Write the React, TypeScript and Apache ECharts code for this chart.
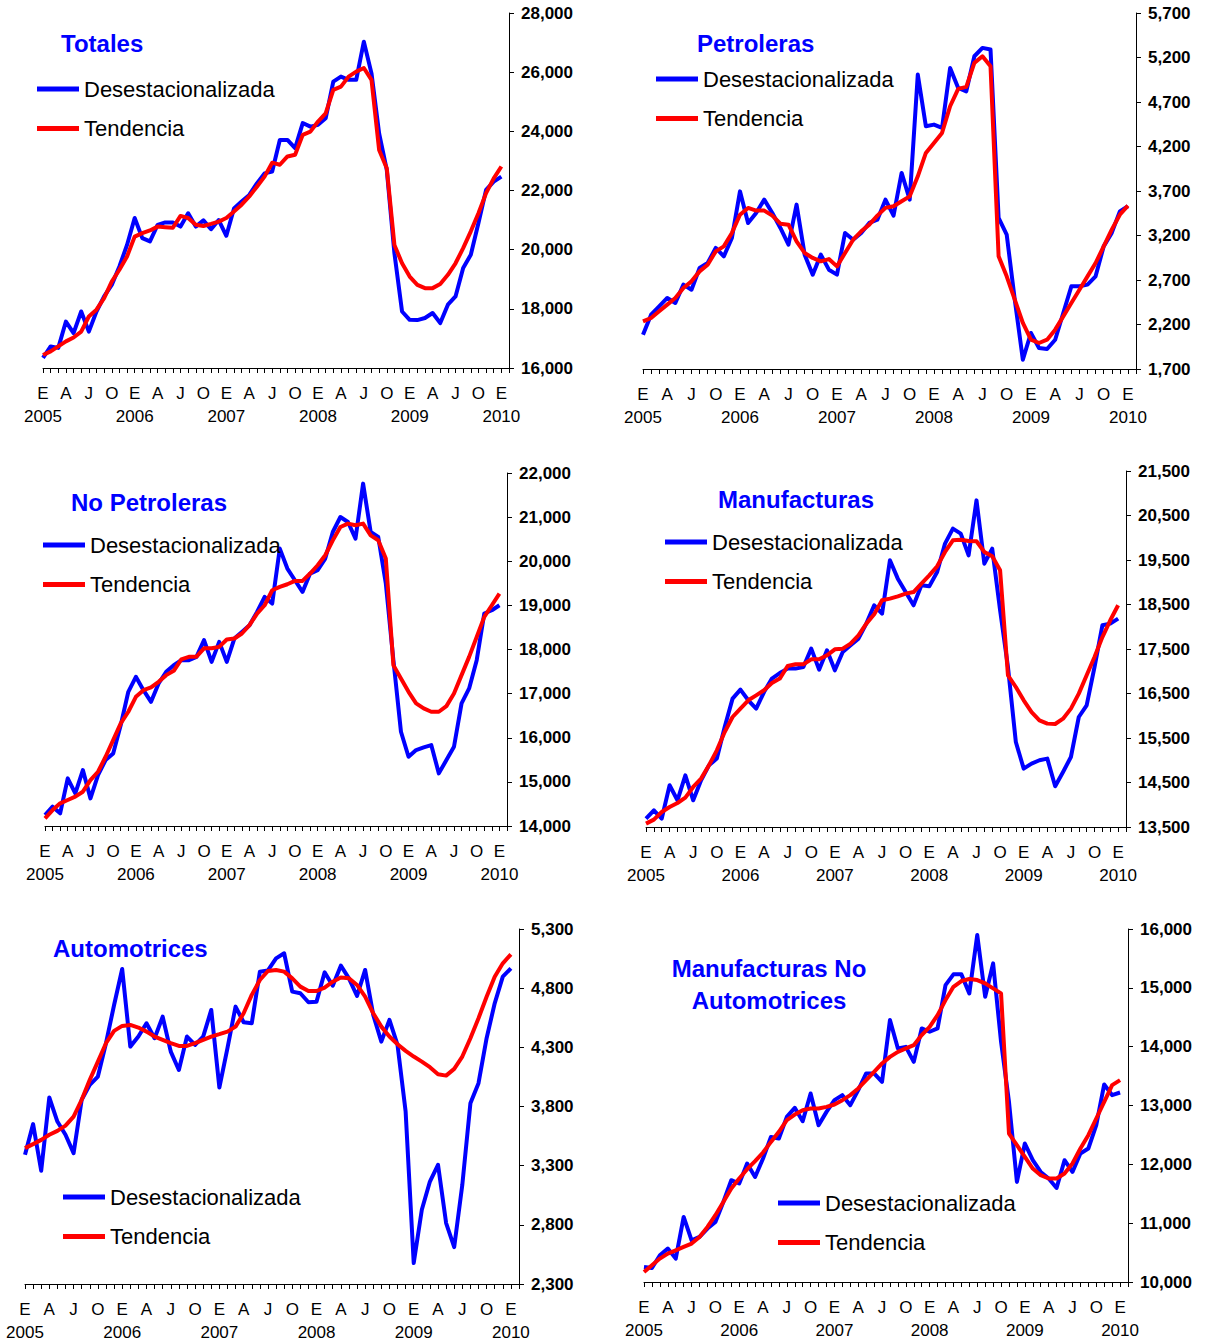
import React, { useEffect, useRef } from "react";
import * as echarts from "echarts";

const monthLetters = ["E", "F", "M", "A", "M", "J", "J", "A", "S", "O", "N", "D"];
const years = [2005, 2006, 2007, 2008, 2009, 2010];
const categories: string[] = [];
for (let y = 0; y < years.length; y++) {
  for (let m = 0; m < 12; m++) {
    if (y === years.length - 1 && m > 0) break;
    categories.push(`${years[y]}-${m + 1}`);
  }
}
categories.push("");

const seriesNames = ["Desestacionalizada", "Tendencia"];

const totDes = [16340, 16730, 16680, 17570, 17180, 17910, 17230, 17910, 18420, 18810, 19430, 20160, 21070, 20390, 20280, 20840, 20920, 20920, 20780, 21230, 20780, 20990, 20690, 21000, 20470, 21390, 21630, 21850, 22240, 22580, 22640, 23710, 23710, 23430, 24280, 24160, 24220, 24440, 25680, 25850, 25740, 25740, 27030, 25960, 23930, 22700, 19880, 17910, 17630, 17620, 17690, 17860, 17520, 18140, 18420, 19380, 19830, 20900, 22020, 22300, 22470];
const totTen = [16440, 16560, 16730, 16900, 17030, 17230, 17740, 17970, 18360, 18920, 19320, 19770, 20440, 20560, 20650, 20780, 20760, 20740, 21140, 21070, 20840, 20800, 20870, 20950, 21070, 21290, 21520, 21800, 22130, 22470, 22940, 22870, 23150, 23210, 23880, 23990, 24330, 24610, 25400, 25510, 25850, 26020, 26140, 25740, 23370, 22750, 20160, 19540, 19090, 18810, 18700, 18700, 18840, 19150, 19540, 20050, 20620, 21230, 21910, 22410, 22810];

const petDes = [2085, 2310, 2404, 2498, 2442, 2648, 2591, 2835, 2891, 3060, 2966, 3172, 3696, 3341, 3453, 3603, 3453, 3285, 3097, 3547, 2985, 2760, 2985, 2816, 2760, 3229, 3153, 3229, 3341, 3378, 3603, 3423, 3903, 3603, 5008, 4427, 4446, 4409, 5083, 4858, 4820, 5214, 5308, 5289, 3397, 3210, 2479, 1805, 2105, 1936, 1925, 2029, 2329, 2629, 2629, 2648, 2741, 3078, 3229, 3471, 3528];
const petTen = [2235, 2273, 2348, 2423, 2498, 2610, 2685, 2797, 2872, 3022, 3078, 3229, 3434, 3510, 3480, 3480, 3423, 3333, 3322, 3135, 3004, 2948, 2910, 2935, 2853, 3004, 3153, 3247, 3322, 3423, 3510, 3528, 3584, 3640, 3865, 4128, 4240, 4353, 4652, 4847, 4870, 5140, 5214, 5101, 2966, 2741, 2479, 2217, 2029, 1992, 2029, 2142, 2291, 2442, 2591, 2741, 2891, 3078, 3266, 3434, 3535];

const npDes = [14249, 14437, 14287, 15079, 14740, 15268, 14626, 15155, 15494, 15645, 16287, 17041, 17380, 17079, 16815, 17230, 17494, 17645, 17758, 17758, 17833, 18211, 17720, 18173, 17720, 18249, 18399, 18551, 18852, 19192, 19041, 20287, 19834, 19570, 19305, 19721, 19796, 20061, 20663, 21003, 20890, 20514, 21759, 20663, 20550, 19495, 17758, 16135, 15569, 15721, 15781, 15834, 15193, 15494, 15796, 16778, 17118, 17758, 18815, 18890, 19003];
const npTen = [14174, 14362, 14514, 14589, 14664, 14777, 15041, 15229, 15569, 15947, 16325, 16589, 16927, 17079, 17140, 17268, 17419, 17517, 17774, 17833, 17838, 18027, 18027, 18060, 18227, 18249, 18362, 18551, 18815, 19003, 19343, 19419, 19479, 19555, 19555, 19721, 19909, 20136, 20476, 20777, 20853, 20815, 20853, 20588, 20476, 20061, 17645, 17344, 17041, 16778, 16664, 16589, 16589, 16717, 17004, 17419, 17833, 18286, 18739, 19003, 19268];

const manDes = [13689, 13875, 13689, 14437, 14100, 14662, 14100, 14549, 14886, 15037, 15747, 16385, 16587, 16347, 16160, 16533, 16835, 16960, 17059, 17059, 17095, 17508, 17036, 17470, 17021, 17432, 17583, 17733, 18070, 18482, 18295, 19493, 19081, 18780, 18482, 18931, 18908, 19230, 19868, 20205, 20093, 19605, 20840, 19418, 19755, 18370, 17095, 15410, 14812, 14925, 15000, 15037, 14415, 14736, 15073, 15972, 16235, 17095, 18032, 18070, 18183];
const manTen = [13576, 13666, 13837, 13949, 14039, 14161, 14399, 14587, 14886, 15223, 15635, 15972, 16160, 16347, 16459, 16572, 16736, 16835, 17118, 17156, 17156, 17268, 17268, 17358, 17493, 17508, 17620, 17808, 18070, 18280, 18594, 18632, 18684, 18744, 18780, 18969, 19156, 19358, 19680, 19942, 19957, 19927, 19920, 19680, 19583, 19268, 16909, 16646, 16347, 16084, 15897, 15823, 15815, 15935, 16160, 16497, 16909, 17320, 17769, 18145, 18482];

const autoDes = [3392, 3651, 3257, 3876, 3673, 3561, 3406, 3857, 3983, 4053, 4335, 4658, 4962, 4306, 4391, 4503, 4377, 4559, 4264, 4109, 4391, 4320, 4391, 4616, 3960, 4293, 4644, 4512, 4503, 4939, 4950, 5052, 5095, 4771, 4757, 4681, 4686, 4934, 4821, 4990, 4883, 4734, 4954, 4574, 4348, 4532, 4320, 3757, 2477, 2927, 3166, 3307, 2815, 2612, 3138, 3828, 3997, 4377, 4672, 4897, 4968];
const autoTen = [3448, 3482, 3518, 3561, 3594, 3639, 3715, 3857, 4025, 4179, 4335, 4439, 4481, 4489, 4467, 4433, 4391, 4363, 4335, 4312, 4312, 4335, 4363, 4391, 4411, 4433, 4475, 4588, 4743, 4869, 4945, 4954, 4940, 4883, 4813, 4776, 4776, 4805, 4855, 4890, 4883, 4827, 4728, 4588, 4475, 4391, 4326, 4270, 4222, 4179, 4132, 4073, 4061, 4118, 4222, 4377, 4546, 4728, 4897, 5010, 5086];

const mnaDes = [10255, 10238, 10454, 10568, 10398, 11106, 10709, 10766, 10908, 11021, 11361, 11730, 11674, 12014, 11786, 12099, 12466, 12439, 12807, 12960, 12733, 13205, 12665, 12892, 13091, 13176, 13006, 13261, 13545, 13545, 13402, 14452, 13970, 13997, 13742, 14310, 14253, 14310, 15047, 15229, 15229, 14906, 15897, 14848, 15416, 14082, 13062, 11701, 12354, 12070, 11871, 11759, 11599, 12070, 11871, 12184, 12269, 12665, 13358, 13176, 13221];
const mnaTen = [10170, 10284, 10398, 10483, 10539, 10596, 10653, 10766, 10936, 11135, 11361, 11589, 11759, 11917, 12053, 12201, 12381, 12552, 12750, 12847, 12921, 12949, 12949, 12977, 13017, 13091, 13176, 13290, 13431, 13572, 13715, 13827, 13912, 13970, 14026, 14197, 14338, 14537, 14792, 15018, 15116, 15149, 15132, 15075, 14991, 14906, 12524, 12325, 12126, 11929, 11815, 11759, 11759, 11844, 12014, 12269, 12495, 12779, 13062, 13346, 13431];

const FONT = "'Liberation Sans', Arial, sans-serif";
const BLUE = "#0000FF";
const RED = "#FF0000";

const panels = [
  { title: ["Totales"], titleX: 61, titleY: [43], titleAlign: "left", des: totDes, ten: totTen, min: 16000, max: 28000, interval: 2000,
    grid: { left: 43, top: 13, width: 466, height: 355 }, legend: { left: 37, top: 77 } },
  { title: ["Petroleras"], titleX: 697, titleY: [43], titleAlign: "left", des: petDes, ten: petTen, min: 1700, max: 5700, interval: 500,
    grid: { left: 643, top: 13, width: 493, height: 356 }, legend: { left: 656, top: 67 } },
  { title: ["No Petroleras"], titleX: 71, titleY: [502], titleAlign: "left", des: npDes, ten: npTen, min: 14000, max: 22000, interval: 1000,
    grid: { left: 45, top: 473, width: 462, height: 353 }, legend: { left: 43, top: 533 } },
  { title: ["Manufacturas"], titleX: 718, titleY: [499], titleAlign: "left", des: manDes, ten: manTen, min: 13500, max: 21500, interval: 1000,
    grid: { left: 646, top: 471, width: 480, height: 356 }, legend: { left: 665, top: 530 } },
  { title: ["Automotrices"], titleX: 53, titleY: [948], titleAlign: "left", des: autoDes, ten: autoTen, min: 2300, max: 5300, interval: 500,
    grid: { left: 25, top: 929, width: 494, height: 355 }, legend: { left: 63, top: 1185 } },
  { title: ["Manufacturas No", "Automotrices"], titleX: 769, titleY: [968, 1000], titleAlign: "center", des: mnaDes, ten: mnaTen, min: 10000, max: 16000, interval: 1000,
    grid: { left: 644, top: 929, width: 484, height: 353 }, legend: { left: 778, top: 1191 } },
];

function xLabel(_v: string, idx: number): string {
  if (idx >= categories.length - 1) return "";
  const m = idx % 12;
  if (m === 0) return `{m|${monthLetters[m]}}\n{y|${years[Math.floor(idx / 12)]}}`;
  if (m === 3 || m === 6 || m === 9) return `{m|${monthLetters[m]}}`;
  return "";
}

function buildOption() {
  const grid: any[] = [];
  const xAxis: any[] = [];
  const yAxis: any[] = [];
  const series: any[] = [];
  const legend: any[] = [];
  const graphic: any[] = [];

  panels.forEach((p, i) => {
    grid.push({ ...p.grid, containLabel: false });
    xAxis.push({
      type: "category",
      gridIndex: i,
      data: categories,
      boundaryGap: false,
      axisLine: { onZero: false, lineStyle: { color: "#000", width: 1 } },
      axisTick: { show: true, interval: 0, length: 5, lineStyle: { color: "#000" } },
      axisLabel: {
        interval: 0,
        margin: 15,
        formatter: xLabel,
        rich: {
          m: { fontSize: 17, lineHeight: 20, color: "#000", fontFamily: FONT },
          y: { fontSize: 17, lineHeight: 26, color: "#000", fontFamily: FONT },
        },
      },
      splitLine: { show: false },
    });
    yAxis.push({
      type: "value",
      gridIndex: i,
      position: "right",
      min: p.min,
      max: p.max,
      interval: p.interval,
      axisLine: { show: true, lineStyle: { color: "#000", width: 1 } },
      axisTick: { show: true, length: 5, lineStyle: { color: "#000" } },
      axisLabel: {
        margin: 12,
        fontSize: 17,
        fontWeight: "bold",
        color: "#000",
        fontFamily: FONT,
        formatter: (v: number) => v.toLocaleString("en-US"),
      },
      splitLine: { show: false },
    });
    series.push({
      type: "line",
      name: seriesNames[0],
      xAxisIndex: i,
      yAxisIndex: i,
      data: p.des,
      symbol: "none",
      lineStyle: { width: 4, color: BLUE, join: "round" },
      itemStyle: { color: BLUE },
      z: 2,
    });
    series.push({
      type: "line",
      name: seriesNames[1],
      xAxisIndex: i,
      yAxisIndex: i,
      data: p.ten,
      symbol: "none",
      lineStyle: { width: 4, color: RED, join: "round" },
      itemStyle: { color: RED },
      z: 3,
    });
    legend.push({
      left: p.legend.left,
      top: p.legend.top,
      orient: "vertical",
      padding: 0,
      itemWidth: 42,
      itemHeight: 5,
      itemGap: 15.5,
      icon: "rect",
      selectedMode: false,
      data: seriesNames,
      textStyle: { fontSize: 22, lineHeight: 24, color: "#000", fontFamily: FONT },
    });
    p.title.forEach((t, k) => {
      graphic.push({
        type: "text",
        x: p.titleX,
        y: p.titleY[k],
        style: {
          text: t,
          fill: BLUE,
          fontSize: 24,
          fontWeight: "bold",
          fontFamily: FONT,
          align: p.titleAlign,
          verticalAlign: "middle",
        },
      });
    });
  });

  return {
    animation: false,
    backgroundColor: "#fff",
    grid,
    xAxis,
    yAxis,
    series,
    legend,
    graphic,
  };
}

export default function App() {
  const ref = useRef<HTMLDivElement>(null);
  useEffect(() => {
    if (!ref.current) return;
    const chart = echarts.init(ref.current, undefined, { renderer: "svg" });
    chart.setOption(buildOption() as any);
    return () => chart.dispose();
  }, []);
  return (
    <div
      ref={ref}
      style={{ position: "absolute", left: 0, top: 0, width: 1208, height: 1344, background: "#fff" }}
    />
  );
}
